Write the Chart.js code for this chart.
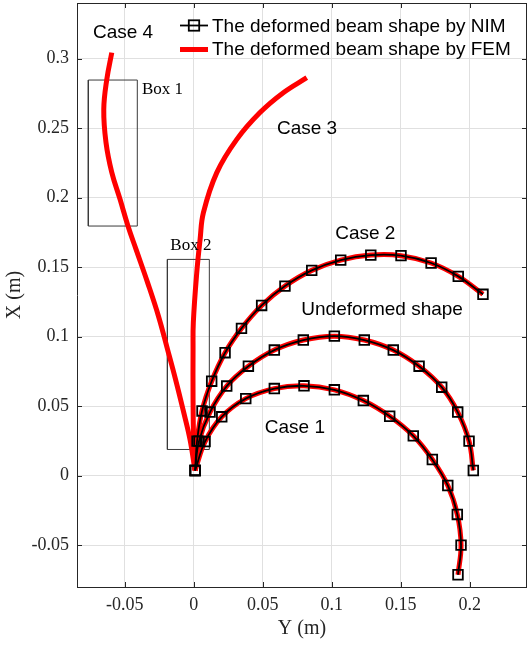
<!DOCTYPE html>
<html>
<head>
<meta charset="utf-8">
<script src="https://cdn.jsdelivr.net/npm/chart.js@4.4.1/dist/chart.umd.min.js"></script>
<style>
  body { margin: 0; background: #fff; }
  #wrap { width: 527px; height: 645px; }
</style>
</head>
<body>
<div id="wrap"><canvas id="chart_beam" width="527" height="645"></canvas></div>
<script>
  // horizontal coordinate = Y (m), vertical coordinate = X (m)
  var undeformedY = [0.001, 0.0038, 0.0118, 0.0239, 0.0396, 0.0584, 0.0794, 0.1019, 0.1236, 0.1446, 0.1633, 0.1797, 0.1913, 0.1995, 0.2026];
  var undeformedX = [0.0038, 0.0249, 0.0458, 0.0645, 0.0788, 0.0904, 0.0976, 0.1004, 0.0976, 0.0904, 0.0788, 0.0637, 0.0458, 0.0249, 0.0038];

  var case1Y = [0.001, 0.0082, 0.0203, 0.0377, 0.0584, 0.0799, 0.1019, 0.1229, 0.1420, 0.1591, 0.1729, 0.1841, 0.1910, 0.1937, 0.1915];
  var case1X = [0.0038, 0.0246, 0.0424, 0.0555, 0.0627, 0.0647, 0.0618, 0.0541, 0.0428, 0.0287, 0.0117, -0.0070, -0.0278, -0.0499, -0.0712];

  var case2Y = [0.001, 0.0024, 0.0060, 0.0130, 0.0227, 0.0346, 0.0492, 0.0661, 0.0855, 0.1065, 0.1283, 0.1502, 0.1720, 0.1917, 0.2096];
  var case2X = [0.0038, 0.0249, 0.0466, 0.0680, 0.0885, 0.1060, 0.1225, 0.1364, 0.1477, 0.1551, 0.1587, 0.1583, 0.1530, 0.1434, 0.1305];

  var case3Y = [0.0009, -0.0001, -0.0005, -0.0005, -0.0003, 0.0022, 0.0046, 0.0070, 0.0167, 0.0312, 0.0480, 0.0649, 0.0819];
  var case3X = [0.0038, 0.0261, 0.0549, 0.0909, 0.1103, 0.1463, 0.1700, 0.1892, 0.2180, 0.2419, 0.2612, 0.2755, 0.2863];

  var case4Y = [0.0009, -0.0027, -0.0078, -0.0132, -0.0190, -0.0255, -0.0335, -0.0418, -0.0476, -0.0534, -0.0594, -0.0636, -0.0652, -0.0630, -0.0594];
  var case4X = [0.0038, 0.0261, 0.0477, 0.0693, 0.0909, 0.1146, 0.1391, 0.1628, 0.1794, 0.1988, 0.2182, 0.2398, 0.2635, 0.2851, 0.3043];

  var box1Y = [-0.0764, -0.0409];
  var box1X = [0.1796, 0.2846];
  var box2Y = [-0.0191, 0.0113];
  var box2X = [0.0189, 0.1556];

  var xTicks = [-0.05, 0, 0.05, 0.1, 0.15, 0.2];
  var xTickLabels = ["-0.05", "0", "0.05", "0.1", "0.15", "0.2"];
  var yTicks = [-0.05, 0, 0.05, 0.1, 0.15, 0.2, 0.25, 0.3];
  var yTickLabels = ["-0.05", "0", "0.05", "0.1", "0.15", "0.2", "0.25", "0.3"];

  var notes = [
    { text: "Case 4", y: -0.0512, x: 0.3187, font: "19px 'Liberation Sans'", align: "center" },
    { text: "Box 1", y: -0.0375, x: 0.2776, font: "17px 'Liberation Serif'", align: "left" },
    { text: "Case 3", y: 0.0821, x: 0.2499, font: "19px 'Liberation Sans'", align: "center" },
    { text: "Box 2", y: -0.0021, x: 0.1657, font: "17px 'Liberation Serif'", align: "center" },
    { text: "Case 2", y: 0.1243, x: 0.1743, font: "19px 'Liberation Sans'", align: "center" },
    { text: "Undeformed shape", y: 0.1365, x: 0.1193, font: "19px 'Liberation Sans'", align: "center" },
    { text: "Case 1", y: 0.0733, x: 0.0342, font: "19px 'Liberation Sans'", align: "center" }
  ];

  function zipPts(ys, xs) {
      return ys.map(function(v, i) { return { x: v, y: xs[i] }; });
  }

  function boxPts(ys, xs) {
      return [
          { x: ys[0], y: xs[0] }, { x: ys[1], y: xs[0] },
          { x: ys[1], y: xs[1] }, { x: ys[0], y: xs[1] },
          { x: ys[0], y: xs[0] }
      ];
  }

  function femSet(pts) {
      return { data: pts, borderColor: "#ff0000", borderWidth: 5, pointRadius: 0,
               tension: 0.4, fill: false, order: 2 };
  }

  function nimSet(pts) {
      return { data: pts, borderColor: "#000000", borderWidth: 1.8, pointRadius: 6.8,
               pointStyle: "rect", pointBorderColor: "#000000", pointBorderWidth: 1.8,
               pointBackgroundColor: "rgba(0,0,0,0)", tension: 0.4, fill: false, order: 1 };
  }

  function boxSet(pts) {
      return { data: pts, borderColor: "#3a3a3a", borderWidth: 1, pointRadius: 0,
               tension: 0, fill: false, order: 3 };
  }

  var undeformed = zipPts(undeformedY, undeformedX);
  var case1 = zipPts(case1Y, case1X);
  var case2 = zipPts(case2Y, case2X);

  var datasets = [
      boxSet(boxPts(box1Y, box1X)),
      boxSet(boxPts(box2Y, box2X)),
      femSet(zipPts(case4Y, case4X)),
      femSet(zipPts(case3Y, case3X)),
      femSet(undeformed),
      femSet(case1),
      femSet(case2),
      nimSet(undeformed),
      nimSet(case1),
      nimSet(case2)
  ];

  // frame with inward ticks, MATLAB style
  var framePlugin = {
      id: "frame",
      afterDraw: function(chart) {
          var ctx = chart.ctx, a = chart.chartArea;
          var sx = chart.scales.x, sy = chart.scales.y;
          ctx.save();
          ctx.strokeStyle = "#262626";
          ctx.lineWidth = 1;
          ctx.beginPath();
          ctx.moveTo(a.left, a.top + 0.5);
          ctx.lineTo(a.right, a.top + 0.5);
          ctx.moveTo(a.right - 0.5, a.top);
          ctx.lineTo(a.right - 0.5, a.bottom);
          xTicks.forEach(function(v) {
              var px = Math.round(sx.getPixelForValue(v)) + 0.5;
              ctx.moveTo(px, a.bottom); ctx.lineTo(px, a.bottom - 5);
              ctx.moveTo(px, a.top); ctx.lineTo(px, a.top + 5);
          });
          yTicks.forEach(function(v) {
              var py = Math.round(sy.getPixelForValue(v)) + 0.5;
              ctx.moveTo(a.left, py); ctx.lineTo(a.left + 5, py);
              ctx.moveTo(a.right, py); ctx.lineTo(a.right - 5, py);
          });
          ctx.stroke();
          ctx.restore();
      }
  };

  var notesPlugin = {
      id: "notes",
      afterDatasetsDraw: function(chart) {
          var ctx = chart.ctx;
          var sx = chart.scales.x, sy = chart.scales.y;
          ctx.save();
          ctx.fillStyle = "#000000";
          ctx.textBaseline = "middle";
          notes.forEach(function(n) {
              ctx.font = n.font;
              ctx.textAlign = n.align;
              ctx.fillText(n.text, sx.getPixelForValue(n.y), sy.getPixelForValue(n.x));
          });

          // legend
          var lx0 = 180, lx1 = 208, tx = 212;
          ctx.lineWidth = 1.8;
          ctx.strokeStyle = "#000000";
          ctx.beginPath();
          ctx.moveTo(lx0, 25.5); ctx.lineTo(lx1, 25.5);
          ctx.stroke();
          ctx.strokeRect(194 - 5.2, 25.5 - 5.2, 10.4, 10.4);
          ctx.lineWidth = 5;
          ctx.strokeStyle = "#ff0000";
          ctx.beginPath();
          ctx.moveTo(lx0, 49.5); ctx.lineTo(lx1, 49.5);
          ctx.stroke();
          ctx.font = "19px 'Liberation Sans'";
          ctx.textAlign = "left";
          ctx.fillText("The deformed beam shape by NIM", tx, 26.5);
          ctx.fillText("The deformed beam shape by FEM", tx, 50);
          ctx.restore();
      }
  };

  function noPad(scale) {
      scale.paddingLeft = 0;
      scale.paddingRight = 0;
      scale.paddingTop = 0;
      scale.paddingBottom = 0;
  }

  var chart_beam = new Chart("chart_beam", {
      type: "line",
      data: { datasets: datasets },
      options: {
          responsive: false,
          animation: false,
          devicePixelRatio: 1,
          layout: { autoPadding: false, padding: { top: 3, right: 0, left: 0, bottom: 0 } },
          plugins: { legend: { display: false }, tooltip: { enabled: false } },
          scales: {
              x: {
                  type: "linear",
                  min: -0.0846,
                  max: 0.2415,
                  afterBuildTicks: function(scale) {
                      scale.ticks = xTicks.map(function(v) { return { value: v }; });
                  },
                  afterFit: function(scale) { scale.height = 58; noPad(scale); },
                  ticks: {
                      autoSkip: false, maxRotation: 0, padding: 7, color: "#262626",
                      font: { family: "'Liberation Serif'", size: 18 },
                      callback: function(v, i) { return xTickLabels[i]; }
                  },
                  grid: { color: "#e0e0e0", drawTicks: false },
                  border: { color: "#262626", width: 1 },
                  title: { display: true, text: "Y (m)", color: "#262626",
                           font: { family: "'Liberation Serif'", size: 20 },
                           padding: { top: 0, bottom: 4 } }
              },
              y: {
                  type: "linear",
                  min: -0.08,
                  max: 0.34,
                  afterBuildTicks: function(scale) {
                      scale.ticks = yTicks.map(function(v) { return { value: v }; });
                  },
                  afterFit: function(scale) { scale.width = 77; noPad(scale); },
                  ticks: {
                      autoSkip: false, padding: 8, color: "#262626",
                      font: { family: "'Liberation Serif'", size: 18 },
                      callback: function(v, i) { return yTickLabels[i]; }
                  },
                  grid: { color: "#e0e0e0", drawTicks: false },
                  border: { color: "#262626", width: 1 },
                  title: { display: true, text: "X (m)", color: "#262626",
                           font: { family: "'Liberation Serif'", size: 20 },
                           padding: { top: 3, bottom: 0 } }
              }
          }
      },
      plugins: [framePlugin, notesPlugin]
  });
</script>
</body>
</html>
